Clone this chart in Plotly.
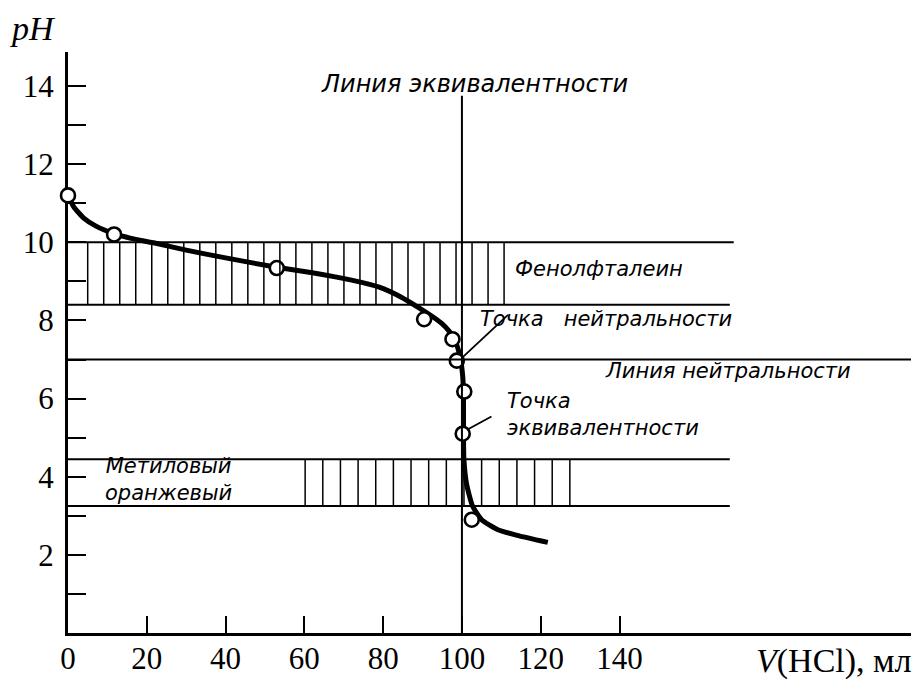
import numpy as np
import plotly.graph_objects as go

# Titration curve: pH vs. volume of added HCl (ml)
curve_v = [0, 1.5, 4, 7, 11.7, 16, 22, 30, 40, 53, 62, 72, 79, 84.5, 89.3, 92.5,
           94.8, 96.8, 98.2, 99.5, 100.2, 100.4, 100.4, 100.5, 101.2, 102.7, 105,
           109, 114, 121.8]
curve_ph = [11.2, 10.9, 10.62, 10.42, 10.22, 10.1, 9.98, 9.8, 9.6, 9.36, 9.22, 9.03,
            8.85, 8.6, 8.31, 8.1, 7.93, 7.72, 7.5, 7.08, 6.57, 6.1, 5.0, 4.45, 3.8,
            3.25, 2.9, 2.65, 2.5, 2.32]

# Measured points
point_v = [0, 11.7, 53, 90.4, 97.6, 98.7, 100.6, 100.2, 102.5]
point_ph = [11.2, 10.2, 9.34, 8.03, 7.52, 6.97, 6.18, 5.1, 2.9]

# Indicator transition ranges (pH) and reference lines
phenolphthalein_range = [8.4, 10.0]
methyl_orange_range = [3.25, 4.45]
neutral_ph = 7.0
equivalence_v = 100

x_tick_vals = [0, 20, 40, 60, 80, 100, 120, 140]
y_tick_vals = list(range(1, 15))

X_MAX = 214
Y_MAX = 14.87
BLACK = "#000"
SERIF = "Liberation Serif"

fig = go.Figure()

shapes = []


def hline(y, x0, x1, w=2):
    shapes.append(dict(type="line", xref="x", yref="y", x0=x0, x1=x1, y0=y, y1=y,
                       line=dict(color=BLACK, width=w)))


def vline(x, y0, y1, w=1.5):
    shapes.append(dict(type="line", xref="x", yref="y", x0=x, x1=x, y0=y0, y1=y1,
                       line=dict(color=BLACK, width=w)))


# Phenolphthalein band with vertical hatching
hline(phenolphthalein_range[1], 0, 169)
hline(phenolphthalein_range[0], 0, 168)
for xv in np.linspace(5, 110.7, 27):
    vline(xv, phenolphthalein_range[0], phenolphthalein_range[1])

# Methyl orange band with vertical hatching
hline(methyl_orange_range[1], 0, 168)
hline(methyl_orange_range[0], 0, 168)
for xv in np.linspace(60.2, 127.4, 16):
    vline(xv, methyl_orange_range[0], methyl_orange_range[1])

# Neutrality line
hline(neutral_ph, 0, X_MAX)

# Equivalence line
vline(equivalence_v, 0, 13.75, w=2)

# Leader lines for the point labels
shapes.append(dict(type="line", xref="x", yref="y", x0=111.7, y0=8.14, x1=100, y1=7.04,
                   line=dict(color=BLACK, width=1.8)))
shapes.append(dict(type="line", xref="x", yref="y", x0=107.5, y0=5.54, x1=101.3, y1=5.2,
                   line=dict(color=BLACK, width=1.8)))

fig.add_trace(go.Scatter(
    x=curve_v, y=curve_ph, mode="lines",
    line=dict(color=BLACK, width=5, shape="spline", smoothing=0.5),
    hoverinfo="skip", showlegend=False, cliponaxis=False,
))
fig.add_trace(go.Scatter(
    x=point_v, y=point_ph, mode="markers",
    marker=dict(symbol="circle", size=14, color="white",
                line=dict(color=BLACK, width=2.6)),
    showlegend=False, cliponaxis=False,
))

label_font = dict(family="DejaVu Sans", size=21, color=BLACK)
NBSP = "\u00a0"


def label(text, x, y, xanchor="left", align="left", size=21):
    return dict(text="<i>" + text + "</i>", x=x, y=y, xref="x", yref="y",
                xanchor=xanchor, yanchor="middle", align=align,
                showarrow=False, font=dict(label_font, size=size))


annotations = [
    label("Линия эквивалентности", 103.3, 14.05, "center", size=24),
    label("Фенолфталеин", 112.9, 9.32),
    label("Точка" + NBSP * 3 + "нейтральности", 104, 8.04),
    label("Линия нейтральности", 135.8, 6.71),
    label("Точка<br>эквивалентности", 110.9, 5.58),
    label("Метиловый<br>оранжевый", 25.5, 3.92, "center", "center"),
    dict(text="<i>pH</i>", x=-0.042, y=1.04, xref="paper", yref="paper",
         xanchor="center", yanchor="middle", showarrow=False,
         font=dict(family=SERIF, size=34, color=BLACK)),
    dict(text="<i>V</i>(HCl), мл", x=1.003, y=-0.0475, xref="paper", yref="paper",
         xanchor="right", yanchor="middle", showarrow=False,
         font=dict(family=SERIF, size=34, color=BLACK)),
]

tick_font = dict(family=SERIF, size=31, color=BLACK)

fig.update_layout(
    width=919, height=682,
    margin=dict(l=68, r=8, t=52, b=49, autoexpand=False),
    paper_bgcolor="white", plot_bgcolor="white",
    font=dict(family=SERIF, size=31, color=BLACK),
    shapes=shapes, annotations=annotations,
    xaxis=dict(range=[0, X_MAX], showgrid=False, zeroline=False, automargin=False,
               showline=True, linecolor=BLACK, linewidth=3, layer="below traces",
               ticks="inside", ticklen=17, tickwidth=2, tickcolor=BLACK,
               tickvals=x_tick_vals, ticktext=[str(v) for v in x_tick_vals],
               tickfont=tick_font, ticklabelstandoff=-4),
    yaxis=dict(range=[0, Y_MAX], showgrid=False, zeroline=False, automargin=False,
               showline=True, linecolor=BLACK, linewidth=3, layer="below traces",
               ticks="inside", ticklen=18, tickwidth=2, tickcolor=BLACK,
               tickvals=y_tick_vals,
               ticktext=[str(v) if v % 2 == 0 else "" for v in y_tick_vals],
               tickfont=tick_font, ticklabelstandoff=5),
)

fig.write_html("out.html")
